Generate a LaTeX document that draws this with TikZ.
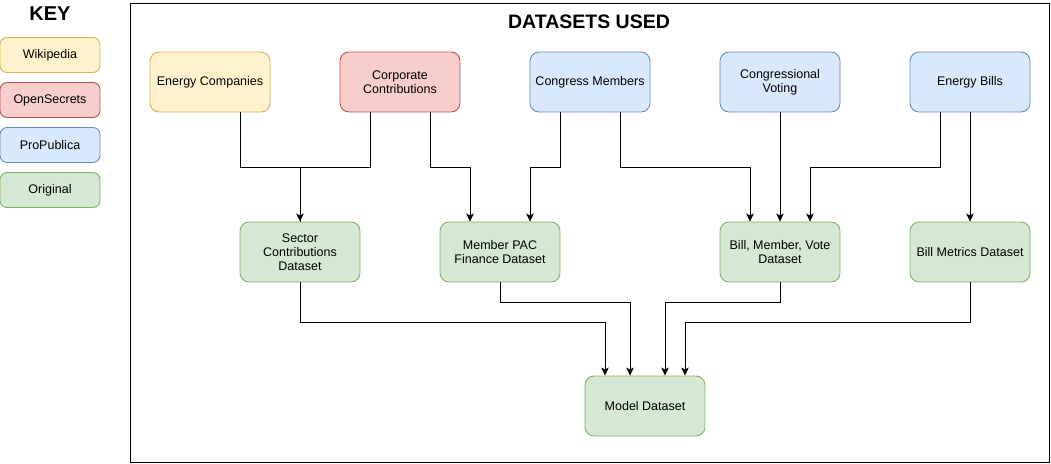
\documentclass[tikz,border=0pt]{standalone}
\usepackage{fontspec}
\setmainfont{Liberation Sans}
\usetikzlibrary{arrows.meta}
\definecolor{yfill}{HTML}{FFF2CC}\definecolor{ydraw}{HTML}{D6B656}
\definecolor{rfill}{HTML}{F8CECC}\definecolor{rdraw}{HTML}{B85450}
\definecolor{bfill}{HTML}{DAE8FC}\definecolor{bdraw}{HTML}{6C8EBF}
\definecolor{gfill}{HTML}{D5E8D4}\definecolor{gdraw}{HTML}{82B366}
\tikzset{
  box/.style={rectangle, rounded corners=9pt, minimum width=120pt, minimum height=60pt, inner sep=2pt, align=center, font=\fontsize{12.5}{14}\selectfont, line width=0.9pt},
  keybox/.style={rectangle, rounded corners=7pt, minimum width=100pt, minimum height=35pt, inner sep=2pt, align=center, font=\fontsize{12.5}{14}\selectfont, line width=0.9pt},
  ybox/.style={fill=yfill, draw=ydraw},
  rbox/.style={fill=rfill, draw=rdraw},
  bbox/.style={fill=bfill, draw=bdraw},
  gbox/.style={fill=gfill, draw=gdraw},
  arr/.style={line width=1pt, -{Stealth[length=8pt,width=7.5pt,inset=2pt]}},
}
\begin{document}
\begin{tikzpicture}[x=1pt,y=-1pt]
\useasboundingbox (0,0) rectangle (1051,463);
% key
\node (keytitle) at (50,14) {\fontsize{20}{22}\selectfont\bfseries KEY};
\node[keybox,ybox] (kw) at (50,55) {Wikipedia};
\node[keybox,rbox] (ko) at (50,100) {OpenSecrets};
\node[keybox,bbox] (kp) at (50,145) {ProPublica};
\node[keybox,gbox] (kg) at (50,190) {Original};
% frame
\node[draw, line width=1pt, minimum width=919pt, minimum height=459pt, inner sep=0pt] (frame) at (589.5,232.5) {};
\node (title) at (589,22) {\fontsize{19.5}{22}\selectfont\bfseries DATASETS USED};
% top row
\node[box,ybox] (ec) at (210,82) {Energy Companies};
\node[box,rbox] (cc) at (400,82) {Corporate\\Contributions};
\node[box,bbox] (cm) at (590,82) {Congress Members};
\node[box,bbox] (cv) at (780,82) {Congressional\\Voting};
\node[box,bbox] (eb) at (970,82) {Energy Bills};
% middle row
\node[box,gbox] (sc) at (300,252) {Sector\\Contributions\\Dataset};
\node[box,gbox] (mp) at (500,252) {Member PAC\\Finance Dataset};
\node[box,gbox] (bmv) at (780,252) {Bill, Member, Vote\\Dataset};
\node[box,gbox] (bm) at (970,252) {Bill Metrics Dataset};
% bottom
\node[box,gbox] (md) at (645,406) {Model Dataset};
% connectors top -> middle
\draw[arr] ([xshift=30pt]ec.south) -- ++(0,55) -| (sc.north);
\draw[line width=1pt] ([xshift=-30pt]cc.south) -- ++(0,55) -| (sc.north);
\draw[arr] ([xshift=30pt]cc.south) -- ++(0,55) -| ([xshift=-30pt]mp.north);
\draw[arr] ([xshift=-30pt]cm.south) -- ++(0,55) -| ([xshift=30pt]mp.north);
\draw[arr] ([xshift=30pt]cm.south) -- ++(0,55) -| ([xshift=-30pt]bmv.north);
\draw[arr] (cv.south) -- (bmv.north);
\draw[arr] ([xshift=-30pt]eb.south) -- ++(0,55) -| ([xshift=30pt]bmv.north);
\draw[arr] (eb.south) -- (bm.north);
% connectors middle -> bottom
\draw[arr] (sc.south) -- ++(0,40) -| ([xshift=-40pt]md.north);
\draw[arr] (mp.south) -- ++(0,20) -| ([xshift=-15pt]md.north);
\draw[arr] (bmv.south) -- ++(0,20) -| ([xshift=20pt]md.north);
\draw[arr] (bm.south) -- ++(0,40) -| ([xshift=40pt]md.north);
\end{tikzpicture}
\end{document}
